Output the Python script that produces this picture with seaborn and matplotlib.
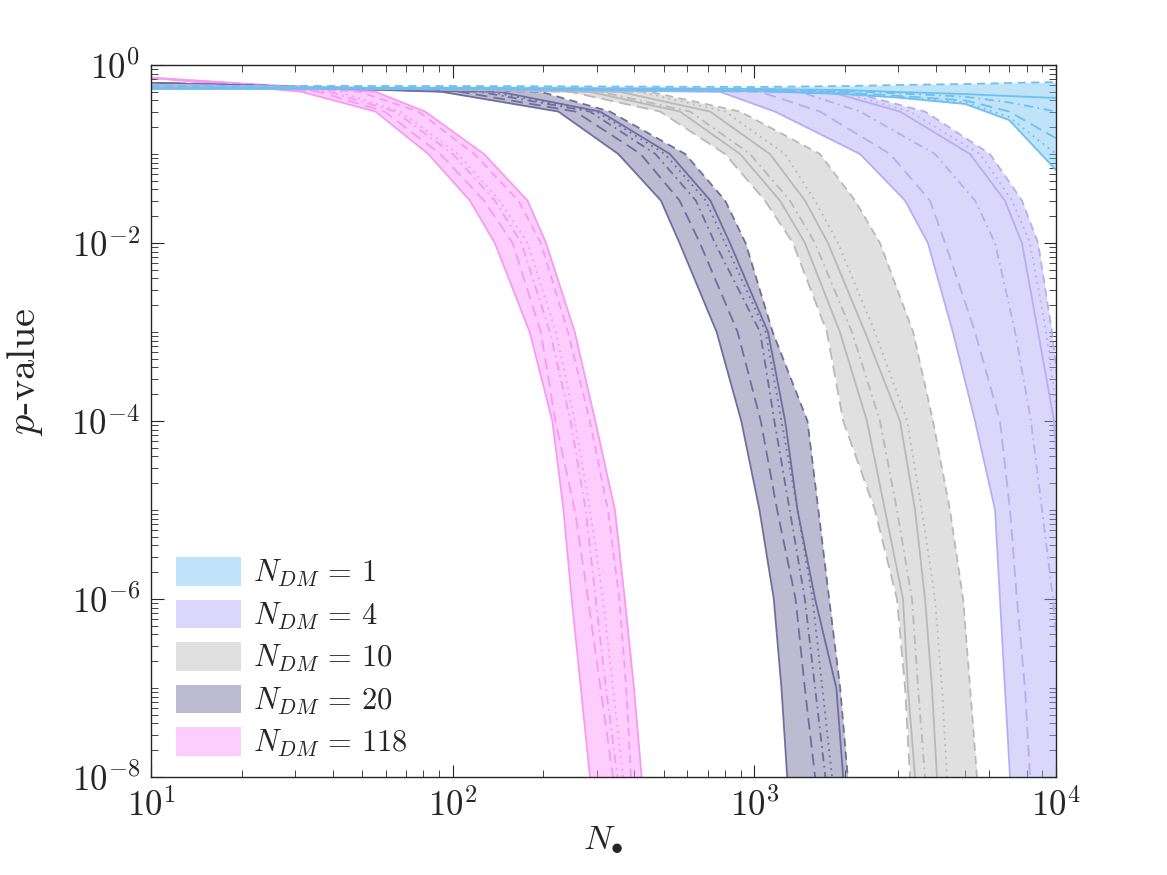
import numpy as np
import pandas as pd
import matplotlib
matplotlib.use('Agg')
import matplotlib.pyplot as plt
import seaborn as sns
from matplotlib.patches import Patch
from matplotlib.ticker import LogLocator, NullFormatter

# p-value levels at which the curves of the steep groups were read
p_levels_118 = [0.72, 0.5, 0.3, 0.1, 3e-2, 1e-2, 1e-3, 1e-4, 1e-5, 1e-6, 1e-7, 1e-8]
p_levels_20 = [0.63, 0.5, 0.3, 0.1, 3e-2, 1e-2, 1e-3, 1e-4, 1e-5, 1e-6, 1e-7, 1e-8]
p_levels_10 = [0.60, 0.5, 0.3, 0.1, 3e-2, 1e-2, 1e-3, 1e-4, 1e-5, 1e-6, 1e-7, 1e-8]
p_levels_4 = [0.58, 0.5, 0.3, 0.1, 3e-2, 1e-2, 1e-3, 1e-4, 1e-5, 1e-6, 1e-7, 1e-8]

# N_DM = 118 : N at each p level
n_118 = {
    'solid':    [10, 31.5, 55.5, 83, 114, 138, 180, 214, 233, 248, 266, 285],
    'longdash': [10, 36, 59.5, 91, 127, 158, 196, 219, 254, 281, 309, 340],
    'dashdot':  [10, 39, 64.5, 100, 138, 169, 210, 246, 276, 298, 322, 352],
    'dotted':   [10, 42, 67, 104, 143, 177, 220, 254, 285, 315, 340, 367],
    'dashed':   [10, 49, 77, 118, 165, 196, 241, 285, 327, 357, 376, 390],
    'solid2':   [10, 55.5, 81, 127, 177, 204, 254, 297, 345, 372, 399, 423],
}

# N_DM = 20
n_20 = {
    'solid':    [10, 92, 224, 354, 490, 565, 750, 905, 1040, 1160, 1230, 1285],
    'longdash': [10, 106, 255, 420, 565, 660, 880, 1050, 1190, 1370, 1470, 1590],
    'dashdot':  [10, 123, 285, 470, 640, 740, 1045, 1165, 1310, 1470, 1590, 1720],
    'dotted':   [10, 133, 300, 505, 690, 800, 1090, 1230, 1390, 1560, 1680, 1810],
    'solid2':   [10, 143, 308, 525, 715, 830, 1110, 1265, 1390, 1590, 1870, 1970],
    'dashed':   [10, 196, 332, 590, 800, 935, 1150, 1500, 1630, 1770, 1925, 2040],
}

# N_DM = 10
n_10 = {
    'longdash': [10, 245, 487, 800, 1084, 1343, 1740, 1970, 2510, 2970, 3160, 3280],
    'solid':    [10, 285, 567, 897, 1216, 1472, 1921, 2362, 2710, 3110, 3230, 3410],
    'dashdot':  [10, 308, 612, 968, 1312, 1588, 2106, 2609, 2970, 3330, 3490, 3680],
    'solid2':   [10, 359, 713, 1126, 1472, 1754, 2326, 3040, 3410, 3680, 3880, 4030],
    'dotted':   [10, 418, 800, 1263, 1588, 1893, 2510, 3210, 3590, 3970, 4190, 4350],
    'dashed':   [10, 451, 897, 1650, 2156, 2609, 3360, 3910, 4450, 4920, 5190, 5470],
}

# N_DM = 4
n_4 = {
    'solid':    [10, 769, 1170, 2240, 3160, 3760, 4550, 5390, 6280, 6520, 6770, 7040],
    'longdash': [10, 1044, 1650, 2820, 3820, 4290, 5390, 6520, 7040, 7420, 7890, 8200],
    'dashdot':  [10, 1416, 2240, 3970, 5390, 6280, 7320, 8260, 8990, 9770, 10310, 10790],
    'solid2':   [10, 1780, 3040, 5190, 6770, 7710, 8720, 9850, 10310, 10790, 11390, 12100],
    'dotted':   [10, 1920, 3280, 5600, 7150, 8200, 9270, 10150, 10710, 11210, 11920, 12860],
    'dashed':   [10, 2070, 3680, 6040, 7710, 8720, 9700, 10470, 10960, 11560, 12290, 13060],
}

# N_DM = 1 : p at fixed N
n_1 = [10, 100, 1000, 2000, 3000, 5000, 7000, 10000]
p_1 = {
    'solid':    [0.538, 0.538, 0.51, 0.47, 0.43, 0.365, 0.24, 0.066],
    'dotted':   [0.538, 0.538, 0.524, 0.48, 0.44, 0.38, 0.26, 0.10],
    'longdash': [0.551, 0.551, 0.524, 0.49, 0.45, 0.40, 0.30, 0.15],
    'dashdot':  [0.551, 0.551, 0.538, 0.51, 0.48, 0.44, 0.38, 0.30],
    'solid2':   [0.551, 0.551, 0.538, 0.524, 0.497, 0.472, 0.448, 0.426],
    'dashed':   [0.581, 0.581, 0.566, 0.581, 0.596, 0.612, 0.628, 0.644],
}

groups = ['1', '4', '10', '20', '118']
base_colors = {'1': '#71C3F2', '4': '#B1A8F4', '10': '#BCBCBC',
               '20': '#6C689B', '118': '#FB92FB'}
line_colors = {'1': '#6EC0EF', '4': '#B6ADF5', '10': '#B9B9B9',
               '20': '#716E9E', '118': '#F79AF4'}
fill_alpha = 0.45

dash_map = {'solid': '', 'solid2': '', 'longdash': (6.5, 3.5),
            'dashed': (4.5, 3), 'dashdot': (5, 2.5, 1, 2.5), 'dotted': (1, 2.5)}

# long table for seaborn
rows = []
for g, nd, pl in [('118', n_118, p_levels_118), ('20', n_20, p_levels_20),
                  ('10', n_10, p_levels_10), ('4', n_4, p_levels_4)]:
    for c, nv in nd.items():
        rows.append(pd.DataFrame({'N': nv, 'p': pl, 'group': g, 'curve': c}))
for c, pv in p_1.items():
    rows.append(pd.DataFrame({'N': n_1, 'p': pv, 'group': '1', 'curve': c}))
df = pd.concat(rows, ignore_index=True)

sns.set_style('ticks')
plt.rcParams['font.family'] = 'serif'
plt.rcParams['font.serif'] = ['cmr10']
plt.rcParams['mathtext.fontset'] = 'cm'
plt.rcParams['axes.formatter.use_mathtext'] = True

fig = plt.figure(figsize=(11.67, 8.75), dpi=100)
ax = fig.add_axes([0.1294, 0.112, 0.7755, 0.8137])
ax.set_xscale('log')
ax.set_yscale('log')

# bands
for g, nd, pl in [('4', n_4, p_levels_4), ('10', n_10, p_levels_10),
                  ('20', n_20, p_levels_20), ('118', n_118, p_levels_118)]:
    arr = np.array(list(nd.values()))
    ax.fill_betweenx(pl, arr.min(axis=0), arr.max(axis=0),
                     color=base_colors[g], alpha=fill_alpha, linewidth=0)
parr = np.array(list(p_1.values()))
ax.fill_between(n_1, parr.min(axis=0), parr.max(axis=0),
                color=base_colors['1'], alpha=fill_alpha, linewidth=0)

sns.lineplot(data=df, x='N', y='p', hue='group', style='curve',
             palette=line_colors, dashes=dash_map, estimator=None, sort=False,
             legend=False, linewidth=1.3, ax=ax)

ax.set_xlim(10, 1e4)
ax.set_ylim(1e-8, 1)
ax.set_xticks([10, 100, 1000, 10000])
ax.set_yticks([1e-8, 1e-6, 1e-4, 1e-2, 1])
ax.xaxis.set_minor_locator(LogLocator(base=10, subs=np.arange(2, 10), numticks=50))
ax.yaxis.set_minor_locator(LogLocator(base=10, subs=np.arange(1, 10), numticks=50))
ax.xaxis.set_minor_formatter(NullFormatter())
ax.yaxis.set_minor_formatter(NullFormatter())

ax.tick_params(which='both', direction='in', top=True, right=True,
               color='#262626', labelcolor='#262626')
ax.tick_params(which='major', length=9, width=0.8, labelsize=25, pad=8)
ax.tick_params(which='minor', length=5, width=0.6)
for s in ax.spines.values():
    s.set_color('#262626')
    s.set_linewidth(1.0)

ax.set_xlabel(r'$N_{\bullet}$', fontsize=25, color='#262626', labelpad=0)
ax.set_ylabel(r'$p$-value', fontsize=29, color='#262626')
ax.yaxis.set_label_coords(-0.117, 0.57)

handles = [Patch(facecolor=base_colors[g], alpha=fill_alpha, edgecolor='none')
           for g in groups]
labels = [r'$N_{DM}\,=\,%s$' % g for g in groups]
ax.legend(handles, labels, loc='lower left', bbox_to_anchor=(0.028, 0.025),
          frameon=False, fontsize=22, handlelength=2.1, handleheight=1.05,
          labelspacing=0.35, handletextpad=0.4, borderpad=0, borderaxespad=0)

fig.savefig('out.png', dpi=100)
